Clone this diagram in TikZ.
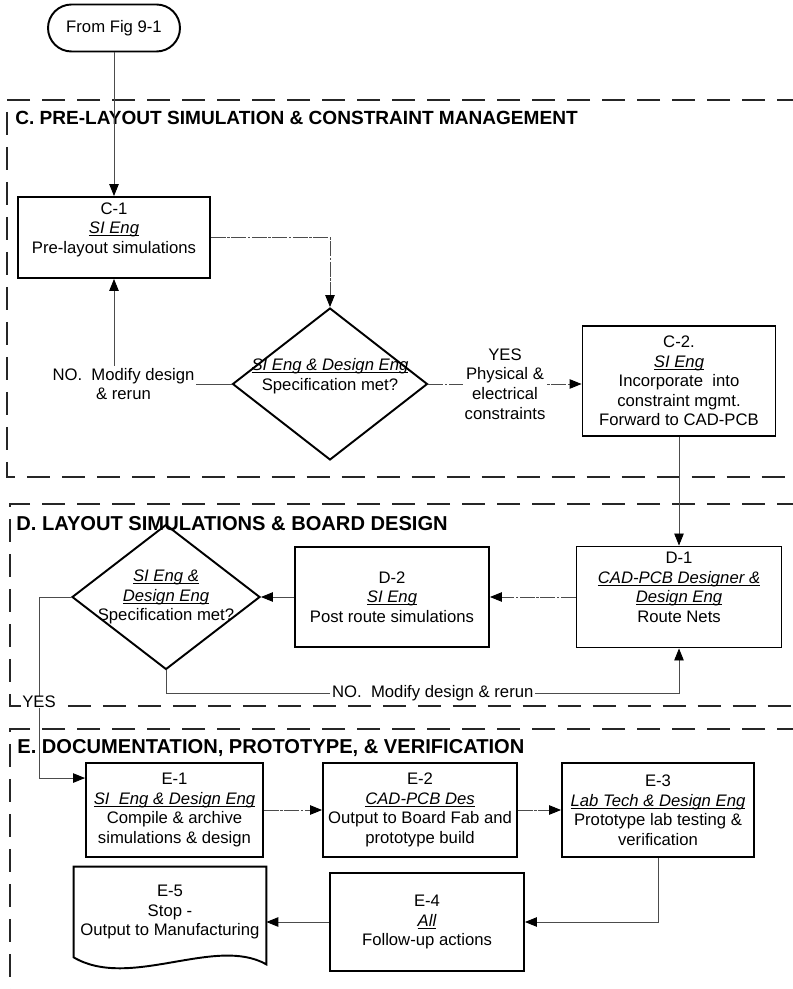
\documentclass[tikz,border=0pt]{standalone}
\usepackage{fontspec}
\setmainfont{Liberation Sans}
\usetikzlibrary{arrows.meta,shapes.geometric}

% italic text with a rule just under the baseline
\newcommand{\ulit}[1]{\setbox0\hbox{\itshape #1}\rlap{\rule[-1.4pt]{\wd0}{0.5pt}}\box0}

\begin{document}
\begin{tikzpicture}[x=0.02cm,y=-0.02cm,
  font=\fontsize{9.5}{11.1}\selectfont,
  box/.style={draw,line width=1.1pt,rectangle,align=center,inner sep=1pt},
  dec/.style={draw,line width=1.1pt,diamond,align=center,inner sep=-0.4cm},
  term/.style={draw,line width=1.1pt,rectangle,rounded corners=0.47cm,minimum width=2.64cm,minimum height=0.94cm},
  head/.style={anchor=west,inner sep=0pt,font=\fontsize{10.85}{13}\selectfont\bfseries},
  bighead/.style={head,font=\fontsize{11.45}{13}\selectfont\bfseries},
  frame/.style={line width=0.9pt,black!85,dash pattern=on 0.46cm off 0.24cm},
  conn/.style={line width=0.5pt,black!70,-{Triangle[length=0.24cm,width=0.19cm,color=black]}},
  dd/.style={dash pattern=on 0.3cm off 0.03cm on 0.05cm off 0.03cm},
  lbl/.style={fill=white,text=black,align=center,inner sep=1pt}]

\clip (0,0) rectangle (793,989);

% section frames, open to the right
\draw[frame] (800,100) -- (7,100) -- (7,477) -- (800,477);
\draw[frame] (800,504) -- (10,504) -- (10,706) -- (800,706);
\draw[frame] (800,729) -- (10,729) -- (10,995);

\node[head] (hC) at (15,118) {C. PRE-LAYOUT SIMULATION \& CONSTRAINT MANAGEMENT};
\node[bighead] (hD) at (16,524) {D. LAYOUT SIMULATIONS \& BOARD DESIGN};
\node[bighead] (hE) at (17,748) {E. DOCUMENTATION, PROTOTYPE, \& VERIFICATION};

\node[term] (start) at (114,28) {From Fig 9-1};

% C. pre-layout
\node[box,minimum width=3.84cm,minimum height=1.62cm] (C1) at (114,237.5) {C-1\\\ulit{SI Eng}\\Pre-layout simulations\\\mbox{}};
\node[dec,minimum width=3.9cm,minimum height=3.04cm] (dC) at (330,384) {\ulit{SI Eng \& Design Eng}\\Specification met?\\\mbox{}};
\node[box,minimum width=3.86cm,minimum height=2.2cm] (C2) at (679,381) {C-2.\\\ulit{SI Eng}\\Incorporate\ \ into\\constraint mgmt.\\Forward to CAD-PCB};

% D. layout
\node[box,minimum width=4.1cm,minimum height=2.02cm] (D1) at (679,597) {D-1\\\ulit{CAD-PCB Designer \&}\\\ulit{Design Eng}\\Route Nets\\\mbox{}};
\node[box,minimum width=3.88cm,minimum height=2.0cm] (D2) at (392,597) {D-2\\\ulit{SI Eng}\\Post route simulations};
\node[dec,minimum width=3.76cm,minimum height=2.9cm] (dD) at (166,597) {\ulit{SI Eng \&}\\\ulit{Design Eng}\\Specification met?};

% E. documentation
\node[box,minimum width=3.54cm,minimum height=1.88cm] (E1) at (174.5,810) {E-1\\\ulit{SI\ \ Eng \& Design Eng}\\Compile \& archive\\simulations \& design};
\node[box,minimum width=3.88cm,minimum height=1.88cm] (E2) at (420,810) {E-2\\\ulit{CAD-PCB Des}\\Output to Board Fab and\\prototype build};
\node[box,minimum width=3.84cm,minimum height=1.88cm] (E3) at (658,810) {E-3\\\ulit{Lab Tech \& Design Eng}\\Prototype lab testing \&\\verification};
\node[box,minimum width=3.88cm,minimum height=1.96cm] (E4) at (427,922) {E-4\\\ulit{All}\\Follow-up actions};
\node[align=center,minimum width=3.84cm,minimum height=1.8cm] (E5) at (170,912) {E-5\\Stop -\\Output to Manufacturing};
\draw[line width=1.1pt] (E5.north west) -- (E5.south west)
  .. controls +(56,33) and +(-51,-29) .. ([yshift=-0.14cm]E5.south east)
  -- (E5.north east) -- cycle;

% connectors
\draw[conn] (start) -- (C1);
\draw[conn,dd] (C1.east) -| (dC.north);
\draw[conn] (dC.west) -| node[lbl,xshift=0.19cm]{NO.\ \ Modify design\\\& rerun} (C1.south);
\draw[conn,dd] (dC.east) -- node[lbl]{YES\\Physical \&\\electrical\\constraints} (dC.east -| C2.west);
\draw[conn] (C2) -- (D1);
\draw[conn,dd] (D1) -- (D2);
\draw[conn] (D2) -- (dD);
\draw[conn] (dD.south) -- ++(0,23) -| node[lbl,pos=0.26]{NO.\ \ Modify design \& rerun} (D1.south);
\draw[conn] (dD.west) -- ++(-32,0) |- node[lbl,pos=0.29,inner sep=0pt]{YES} ([yshift=-0.32cm]E1.north west);
\draw[conn,dd] (E1) -- (E2);
\draw[conn,dd] (E2) -- (E3);
\draw[conn] (E3.south) |- (E4.east);
\draw[conn] (E4.west) -- (E4.west -| E5.east);
\end{tikzpicture}
\end{document}
